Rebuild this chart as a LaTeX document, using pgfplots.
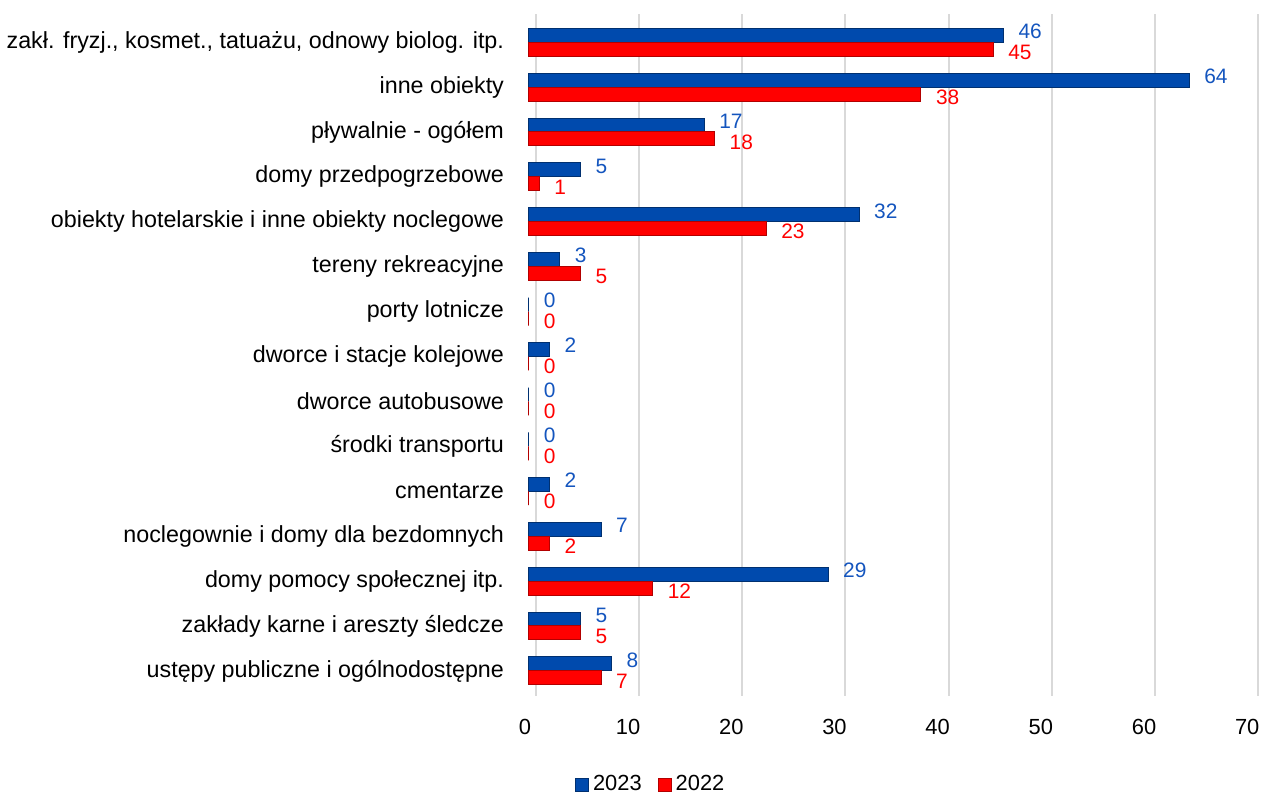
\documentclass[border=0pt]{standalone}
\usepackage{fontspec}
\setmainfont{Liberation Sans}
\usepackage{pgfplots}
\pgfplotsset{compat=1.18}

\definecolor{bar23}{RGB}{0,74,173}
\definecolor{bar22}{RGB}{255,0,0}
\definecolor{lab23}{RGB}{20,85,190}
\definecolor{gridc}{RGB}{217,217,217}

\begin{document}
\begin{tikzpicture}
\begin{axis}[
    xbar,
    bar width=7pt,
    scale only axis,
    width=363pt,
    height=342.6pt,
    xmin=0, xmax=70,
    ymin=-0.62, ymax=14.56,
    y dir=reverse,
    title={\rule{0pt}{7pt}},
    every axis title shift=0pt,
    title style={inner sep=0pt},
    xtick={0,10,...,70},
    ytick={0,...,14},
    yticklabels={
        {zakł. fryzj., kosmet., tatuażu, odnowy biolog. itp.},
        {inne obiekty\ },
        {pływalnie - ogółem},
        {domy przedpogrzebowe},
        {obiekty hotelarskie i inne obiekty noclegowe},
        {tereny rekreacyjne},
        {porty lotnicze},
        {dworce i stacje kolejowe},
        {dworce autobusowe},
        {środki transportu},
        {cmentarze},
        {noclegownie i domy dla bezdomnych},
        {domy pomocy społecznej itp.},
        {zakłady karne i areszty śledcze},
        {ustępy publiczne i ogólnodostępne}},
    font=\fontsize{11}{13}\selectfont,
    /pgf/number format/assume math mode=true,
    yticklabel style={font=\fontsize{11.7}{13}\selectfont, xshift=-9pt},
    xticklabel style={font=\fontsize{11}{13}\selectfont, xshift=-2pt, yshift=-8pt},
    axis line style={draw=none},
    major tick length=0pt,
    xmajorgrids,
    major grid style={gridc, line width=1pt, xshift=3.5pt},
    clip=false,
    legend style={at={(0.17,-0.13)}, anchor=center, draw=none,
        font=\fontsize{11}{13}\selectfont, legend columns=-1,
        /tikz/every even column/.append style={column sep=6pt}},
    legend image code/.code={\fill[#1] (0pt,-3.3pt) rectangle (6.6pt,3.3pt);},
    nodes near coords,
    every node near coord/.append style={font=\fontsize{10.5}{12}\selectfont, anchor=west, xshift=4pt, inner ysep=1pt},
]
\addplot[fill=bar23, draw=bar23!65!black, line width=0.5pt, bar shift=3.5pt,
    every node near coord/.append style={color=lab23, yshift=2pt}] coordinates {
    (46,0) (64,1) (17,2) (5,3) (32,4) (3,5) (0,6) (2,7)
    (0,8) (0,9) (2,10) (7,11) (29,12) (5,13) (8,14)};
\addplot[fill=bar22, draw=bar22!70!black, line width=0.5pt, bar shift=-3.5pt,
    every node near coord/.append style={color=bar22, yshift=-1.5pt}] coordinates {
    (45,0) (38,1) (18,2) (1,3) (23,4) (5,5) (0,6) (0,7)
    (0,8) (0,9) (0,10) (2,11) (12,12) (5,13) (7,14)};
\legend{2023, 2022}
\end{axis}
\end{tikzpicture}
\end{document}
